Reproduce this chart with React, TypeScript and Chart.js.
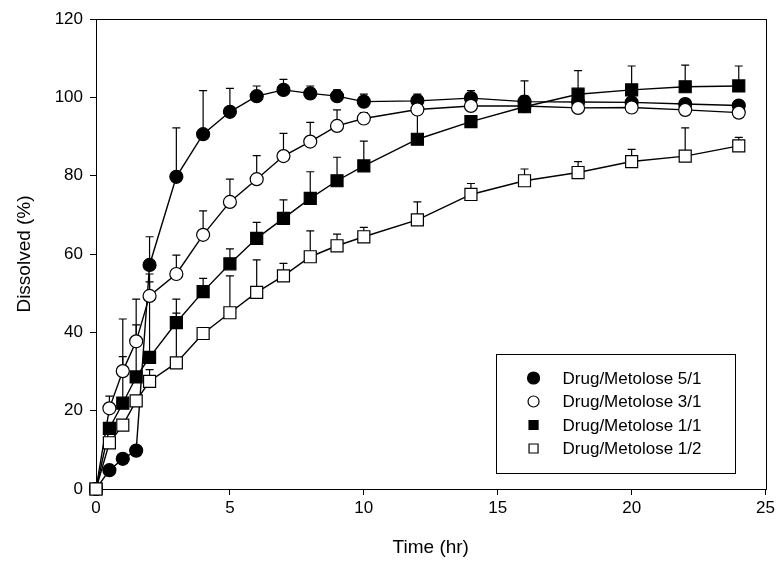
import React, { useEffect, useRef } from "react";
import { Chart, registerables } from "chart.js";

Chart.register(...registerables);

const timeHr = [0, 0.5, 1, 1.5, 2, 3, 4, 5, 6, 7, 8, 9, 10, 12, 14, 16, 18, 20, 22, 24];

const labels = ["Drug/Metolose 5/1", "Drug/Metolose 3/1", "Drug/Metolose 1/1", "Drug/Metolose 1/2"];

const mean51 = [0, 4.8, 7.7, 9.8, 57.2, 79.7, 90.6, 96.3, 100.3, 101.9, 101.0, 100.3, 98.9, 99.1, 99.8, 98.9, 98.8, 98.7, 98.3, 97.9];
const sd51 = [0, 0, 0, 0, 7.2, 12.5, 11.1, 6.0, 2.6, 2.7, 1.9, 1.6, 1.9, 1.7, 1.9, 1.5, 1.0, 1.0, 1.4, 1.2];

const mean31 = [0, 20.6, 30.1, 37.7, 49.3, 54.9, 64.9, 73.3, 79.1, 85.0, 88.7, 92.7, 94.6, 96.9, 97.8, 97.8, 97.3, 97.4, 96.8, 96.1];
const sd31 = [0, 3.1, 3.7, 4.2, 3.6, 4.8, 6.1, 5.8, 6.0, 5.8, 4.9, 4.1, 1.5, 1.0, 1.0, 1.0, 1.0, 1.0, 1.0, 1.0];

const mean11 = [0, 15.5, 21.9, 28.6, 33.6, 42.5, 50.4, 57.5, 64.0, 69.1, 74.2, 78.7, 82.5, 89.3, 93.8, 97.6, 100.8, 101.9, 102.7, 102.9];
const sd11 = [0, 1.0, 21.5, 19.9, 21.3, 6.0, 3.4, 3.8, 4.1, 4.7, 6.8, 6.0, 6.3, 7.7, 1.0, 6.6, 6.0, 6.1, 5.5, 5.1];

const mean12 = [0, 11.8, 16.3, 22.5, 27.5, 32.2, 39.7, 45.0, 50.2, 54.4, 59.3, 62.1, 64.4, 68.7, 75.2, 78.7, 80.8, 83.6, 85.0, 87.6];
const sd12 = [0, 0, 0, 0, 3.0, 12.7, 0, 9.4, 8.3, 3.2, 6.6, 3.0, 2.4, 4.6, 2.8, 3.0, 2.8, 3.1, 7.2, 2.2];

const xTicks = [0, 5, 10, 15, 20, 25];
const yTicks = [0, 20, 40, 60, 80, 100, 120];

const FONT = "'Liberation Sans', Arial, Helvetica, sans-serif";

const toPoints = (ys: number[]) => timeHr.map((t, i) => ({ x: t, y: ys[i] }));

const errorBarPlugin = {
  id: "errorBars",
  beforeDatasetsDraw(chart: any) {
    const { ctx } = chart;
    const yScale = chart.scales.y;
    ctx.save();
    ctx.strokeStyle = "#000";
    ctx.lineWidth = 1.2;
    chart.data.datasets.forEach((ds: any, i: number) => {
      const meta = chart.getDatasetMeta(i);
      const errs: number[] = ds.errors || [];
      meta.data.forEach((pt: any, j: number) => {
        const e = errs[j];
        if (!e) return;
        const v = ds.data[j].y;
        const yTop = yScale.getPixelForValue(v + e);
        ctx.beginPath();
        ctx.moveTo(pt.x, pt.y);
        ctx.lineTo(pt.x, yTop);
        ctx.moveTo(pt.x - 4, yTop);
        ctx.lineTo(pt.x + 4, yTop);
        ctx.stroke();
      });
    });
    ctx.restore();
  },
};

const framePlugin = {
  id: "frame",
  beforeDatasetsDraw(chart: any) {
    const { ctx, chartArea: a } = chart;
    ctx.save();
    ctx.strokeStyle = "#000";
    ctx.lineWidth = 1;
    ctx.strokeRect(Math.round(a.left) + 0.5, Math.round(a.top) + 0.5, Math.round(a.right - a.left), Math.round(a.bottom - a.top));
    ctx.restore();
  },
};

const legendPlugin = {
  id: "customLegend",
  afterDraw(chart: any) {
    const { ctx, chartArea: a } = chart;
    const w = 239;
    const h = 119;
    const right = a.right - 31;
    const bottom = a.bottom - 16;
    const left = right - w;
    const top = bottom - h;
    ctx.save();
    ctx.fillStyle = "#fff";
    ctx.fillRect(left, top, w, h);
    ctx.strokeStyle = "#000";
    ctx.lineWidth = 1;
    ctx.strokeRect(Math.round(left) + 0.5, Math.round(top) + 0.5, w, h);
    ctx.font = `17px ${FONT}`;
    ctx.textBaseline = "middle";
    ctx.textAlign = "left";
    chart.data.datasets.forEach((ds: any, i: number) => {
      const cy = top + 24 + i * 23.5;
      const mx = left + 38;
      ctx.fillStyle = ds.pointBackgroundColor;
      ctx.strokeStyle = "#000";
      ctx.lineWidth = 1.2;
      ctx.beginPath();
      if (ds.pointStyle === "circle") {
        ctx.arc(mx, cy, ds.pointBackgroundColor === "#000" ? 6 : 5.5, 0, Math.PI * 2);
      } else {
        ctx.rect(mx - 4.5, cy - 4.5, 9, 9);
      }
      ctx.fill();
      ctx.stroke();
      ctx.fillStyle = "#000";
      ctx.fillText(ds.label, left + 67, cy + 1);
    });
    ctx.restore();
  },
};

export default function App() {
  const canvasRef = useRef<HTMLCanvasElement | null>(null);

  useEffect(() => {
    if (!canvasRef.current) return;
    const mk = (label: string, ys: number[], errs: number[], style: string, fill: string, r: number, order: number) => ({
      label,
      data: toPoints(ys),
      errors: errs,
      order,
      clip: false,
      borderColor: "#000",
      borderWidth: 1.4,
      pointStyle: style,
      pointRadius: r,
      pointBackgroundColor: fill,
      pointBorderColor: "#000",
      pointBorderWidth: 1.2,
      fill: false,
      tension: 0,
    });
    const chart = new Chart(canvasRef.current, {
      type: "line",
      data: {
        datasets: [
          mk(labels[0], mean51, sd51, "circle", "#000", 6.5, 3),
          mk(labels[1], mean31, sd31, "circle", "#fff", 6.5, 2),
          mk(labels[2], mean11, sd11, "rect", "#000", 8.5, 1),
          mk(labels[3], mean12, sd12, "rect", "#fff", 8.5, 0),
        ] as any,
      },
      options: {
        animation: false,
        responsive: false,
        devicePixelRatio: 1,
        layout: { padding: { top: 19, right: 11, left: 0, bottom: 0 } },
        plugins: { legend: { display: false }, tooltip: { enabled: false } },
        events: [],
        scales: {
          x: {
            type: "linear",
            min: 0,
            max: 25,
            afterBuildTicks: (s: any) => {
              s.ticks = xTicks.map((v) => ({ value: v }));
            },
            afterFit: (s: any) => {
              s.height = 78;
            },
            grid: { display: true, drawOnChartArea: false, drawTicks: true, tickLength: 6, color: "#000" },
            border: { display: true, color: "#000", width: 1 },
            ticks: { color: "#000", font: { family: FONT, size: 17 }, padding: 3, maxRotation: 0 },
            title: { display: true, text: "Time (hr)", color: "#000", font: { family: FONT, size: 19 }, padding: { top: 0, bottom: 8 } },
          },
          y: {
            type: "linear",
            min: 0,
            max: 120,
            afterBuildTicks: (s: any) => {
              s.ticks = yTicks.map((v) => ({ value: v }));
            },
            afterFit: (s: any) => {
              s.width = 96;
            },
            grid: { display: true, drawOnChartArea: false, drawTicks: true, tickLength: 6, color: "#000" },
            border: { display: true, color: "#000", width: 1 },
            ticks: { color: "#000", font: { family: FONT, size: 17 }, padding: 7 },
            title: { display: true, text: "Dissolved (%)", color: "#000", font: { family: FONT, size: 19 }, padding: { top: 13, bottom: 0 } },
          },
        },
      } as any,
      plugins: [framePlugin, errorBarPlugin, legendPlugin],
    });
    return () => chart.destroy();
  }, []);

  return (
    <div style={{ position: "absolute", left: 0, top: 0, width: 778, height: 567, background: "#fff" }}>
      <canvas ref={canvasRef} width={778} height={567} />
    </div>
  );
}
